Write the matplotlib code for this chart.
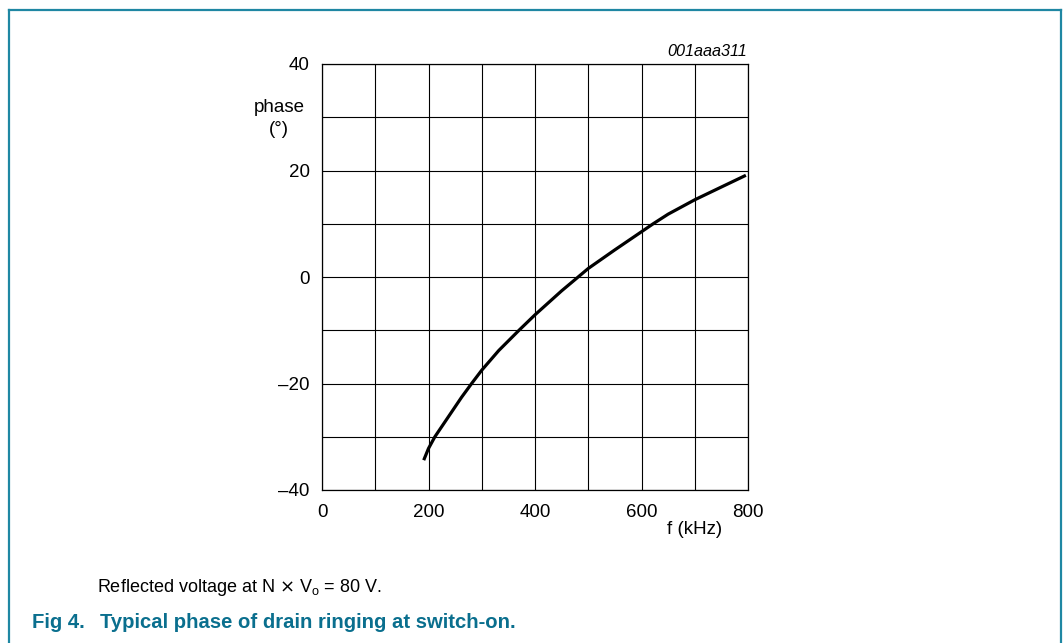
import matplotlib
matplotlib.use("Agg")
import matplotlib.pyplot as plt
from matplotlib.lines import Line2D

# Data
freq_khz = [191, 200, 212, 237, 262, 281, 300, 332, 370, 400, 450, 481, 500, 550, 600, 622, 650, 700, 750, 796]
phase_deg = [-34.4, -32.2, -30.0, -26.3, -22.6, -20.0, -17.5, -13.8, -10.0, -7.1, -2.6, 0.0, 1.6,
             5.1, 8.5, 10.0, 11.8, 14.5, 16.9, 19.1]

x_ticks = [0, 200, 400, 600, 800]
x_tick_labels = ["0", "200", "400", "600", "800"]
y_ticks = [-40, -20, 0, 20, 40]
y_tick_labels = ["\u201340", "\u201320", "0", "20", "40"]
x_grid = list(range(0, 801, 100))
y_grid = list(range(-40, 41, 10))

plt.rcParams['font.family'] = ['Liberation Sans', 'DejaVu Sans']

W, H = 1063, 643
fig = plt.figure(figsize=(W / 100, H / 100), dpi=100)

teal = "#1f87a3"
cap_teal = "#0a6f8e"

# frame (left, top, right lines)
fig.add_artist(Line2D([9 / W, 9 / W], [0, 1 - 10 / H], color=teal, lw=1.6, transform=fig.transFigure))
fig.add_artist(Line2D([9 / W, 1061 / W], [1 - 10 / H, 1 - 10 / H], color=teal, lw=1.6, transform=fig.transFigure))
fig.add_artist(Line2D([1061 / W, 1061 / W], [0, 1 - 10 / H], color=teal, lw=1.6, transform=fig.transFigure))

ax = fig.add_axes([322 / W, (H - 490) / H, 426 / W, 426 / H])
ax.set_xlim(0, 800)
ax.set_ylim(-40, 40)

for gx in x_grid:
    ax.axvline(gx, color="black", lw=0.8, zorder=1)
for gy in y_grid:
    ax.axhline(gy, color="black", lw=0.8, zorder=1)

ax.plot(freq_khz, phase_deg, color="black", lw=2.3, zorder=3,
        solid_capstyle="butt", solid_joinstyle="round")

ax.set_xticks(x_ticks)
ax.set_xticklabels(x_tick_labels)
ax.set_yticks(y_ticks)
ax.set_yticklabels(y_tick_labels)
ax.tick_params(length=0, labelsize=13.5)
ax.tick_params(axis='y', pad=9)
ax.tick_params(axis='x', pad=10)
for s in ax.spines.values():
    s.set_linewidth(0.9)

fig.text(279 / W, 1 - 107 / H, "phase", ha="center", va="center", fontsize=13.5)
fig.text(279 / W, 1 - 130 / H, "(°)", ha="center", va="center", fontsize=13.5)
fig.text(695 / W, 1 - 529 / H, "f (kHz)", ha="center", va="center", fontsize=13.5)
fig.text(747 / W, 1 - 52 / H, "001aaa311", ha="right", va="center", fontsize=11.7, style="italic")

fig.text(97 / W, 1 - 587 / H, r"Reflected voltage at N $\times$ V$_\mathregular{o}$ = 80 V.",
         ha="left", va="center", fontsize=13)
fig.text(32 / W, 1 - 622 / H, "Fig 4.", ha="left", va="center", fontsize=14.6,
         fontweight="bold", color=cap_teal)
fig.text(100 / W, 1 - 622 / H, "Typical phase of drain ringing at switch-on.", ha="left",
         va="center", fontsize=14.6, fontweight="bold", color=cap_teal)

fig.savefig("out.png", dpi=100)
